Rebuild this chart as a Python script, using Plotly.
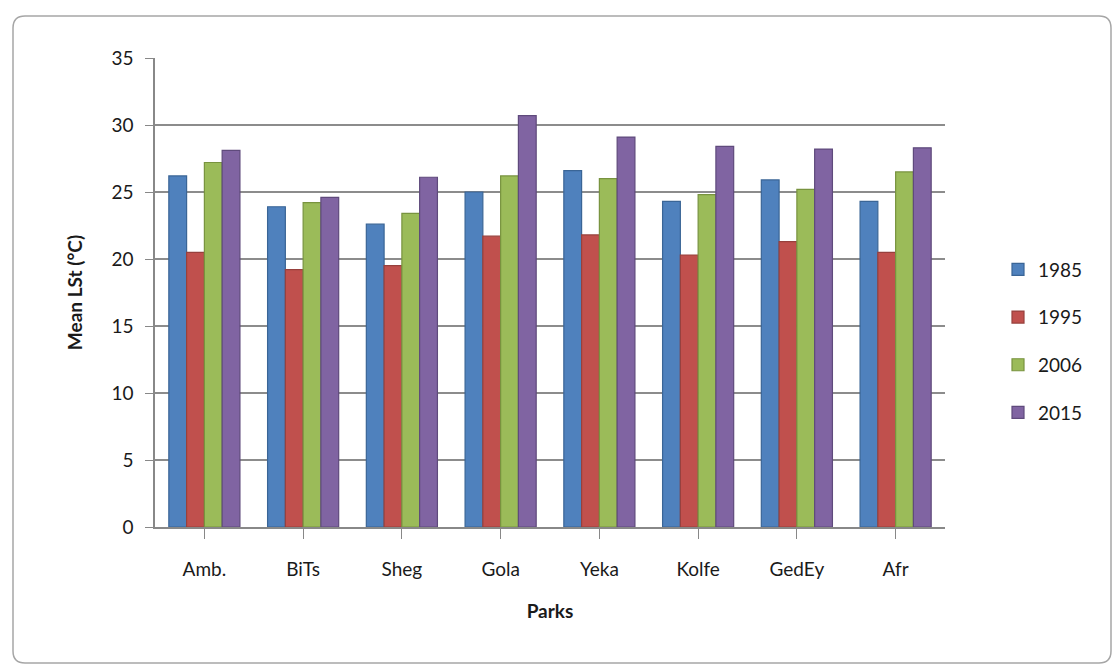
import plotly.graph_objects as go

parks = ["Amb.", "BiTs", "Sheg", "Gola", "Yeka", "Kolfe", "GedEy", "Afr"]
years = ["1985", "1995", "2006", "2015"]
v1985 = [26.2, 23.9, 22.6, 25.0, 26.6, 24.3, 25.9, 24.3]
v1995 = [20.5, 19.2, 19.5, 21.7, 21.8, 20.3, 21.3, 20.5]
v2006 = [27.2, 24.2, 23.4, 26.2, 26.0, 24.8, 25.2, 26.5]
v2015 = [28.1, 24.6, 26.1, 30.7, 29.1, 28.4, 28.2, 28.3]
series = [v1985, v1995, v2006, v2015]
colors = ["#4F81BD", "#C0504D", "#9BBB59", "#8064A2"]
outlines = ["#3A6596", "#97403D", "#78933F", "#5F4A7C"]

fig = go.Figure()
for name, vals, c, oc in zip(years, series, colors, outlines):
    fig.add_trace(go.Bar(
        x=parks, y=vals, name=name, legendgroup=name,
        marker=dict(color=c, line=dict(color=oc, width=1.2)),
    ))

L, R, T, B = 155, 170, 58, 139
W, H = 1115, 666
pw, ph = W - L - R, H - T - B

def px(x):
    return (x - L) / pw

def py(y):
    return (H - B - y) / ph

# rounded frame
x0, x1, y0, y1 = px(13), px(1111), py(16), py(663)
rx, ry = 12 / pw, 12 / ph
path = (f"M {x0+rx},{y0} L {x1-rx},{y0} Q {x1},{y0} {x1},{y0-ry} "
        f"L {x1},{y1+ry} Q {x1},{y1} {x1-rx},{y1} L {x0+rx},{y1} "
        f"Q {x0},{y1} {x0},{y1+ry} L {x0},{y0-ry} Q {x0},{y0} {x0+rx},{y0} Z")
fig.add_shape(type="path", path=path, xref="paper", yref="paper",
              line=dict(color="#A6A6A6", width=1.5), layer="below")

font = "Lato, 'Open Sans', sans-serif"
fig.update_layout(
    width=W, height=H,
    margin=dict(l=L, r=R, t=T, b=B, autoexpand=False),
    paper_bgcolor="white", plot_bgcolor="white",
    barmode="group", bargap=0.28, bargroupgap=0.0,
    font=dict(family=font, size=19, color="#1a1a1a"),
    legend=dict(x=px(998), y=py(341), xanchor="left", yanchor="middle",
                font=dict(size=19), tracegroupgap=20, traceorder="grouped",
                itemwidth=30),
    xaxis=dict(
        title=dict(text="<b>Parks</b>", font=dict(size=19), standoff=26),
        showline=True, linecolor="#888888", linewidth=1.5,
        ticks="outside", ticklen=10, tickcolor="#888888",
        tickmode="array", tickvals=parks,
        ticklabelstandoff=14,
        showgrid=False,
    ),
    yaxis=dict(
        title=dict(text="<b>Mean LSt (°C)</b>", font=dict(size=19), standoff=24),
        range=[0, 35], dtick=5,
        showline=True, linecolor="#888888", linewidth=1.5,
        ticks="outside", ticklen=8, tickcolor="#888888",
        ticklabelstandoff=8,
        showgrid=True, gridcolor="#8C8C8C", gridwidth=2,
        zeroline=False,
    ),
)

fig.write_html("out.html")
